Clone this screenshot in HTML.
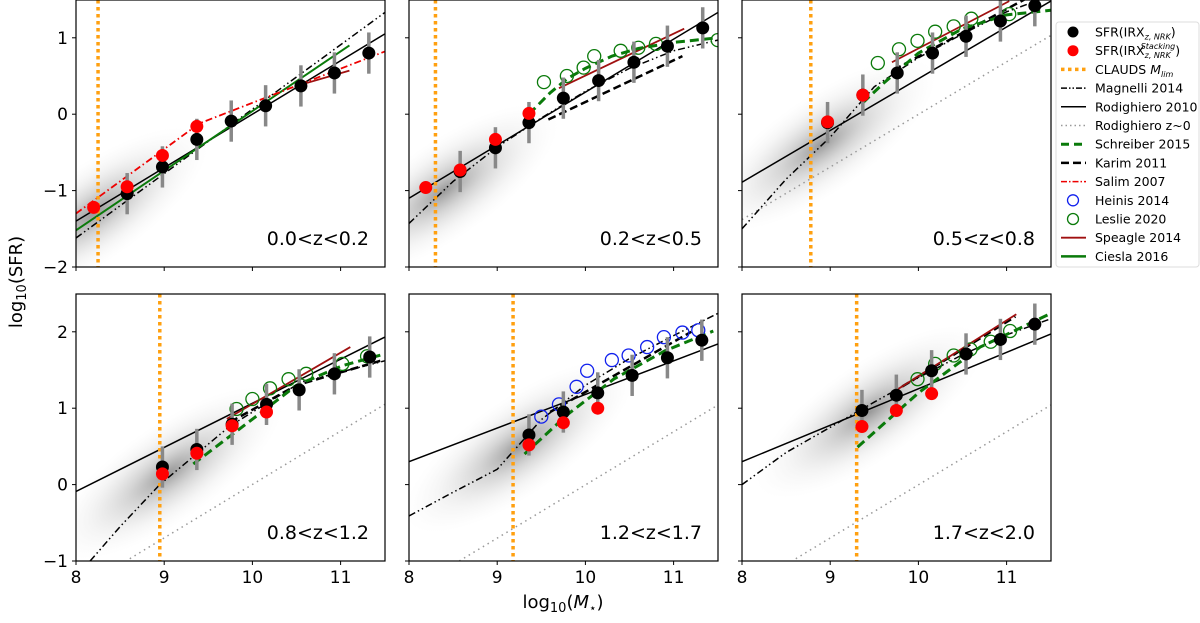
<!DOCTYPE html>
<html><head><meta charset="utf-8">
<style>
body{margin:0;background:#fff;width:1200px;height:618px;overflow:hidden;font-family:"Liberation Sans","DejaVu Sans",sans-serif}
svg text{font-family:"DejaVu Sans","Liberation Sans",sans-serif}
</style></head>
<body>
<svg id="chart" width="1200" height="618" xmlns="http://www.w3.org/2000/svg">
<defs>
<radialGradient id="hex" cx="50%" cy="50%" r="50%">
<stop offset="0" stop-color="#555" stop-opacity="0.6"/>
<stop offset="0.35" stop-color="#888" stop-opacity="0.35"/>
<stop offset="0.7" stop-color="#bbb" stop-opacity="0.15"/>
<stop offset="1" stop-color="#ddd" stop-opacity="0"/>
</radialGradient>
</defs>
<g id="panels"></g>
<text x="0" y="0" transform="translate(22,282) rotate(-90)" font-size="18" text-anchor="middle">log<tspan font-size="13" dy="4">10</tspan><tspan dy="-4">(SFR)</tspan></text>
<text x="563" y="608" font-size="18" text-anchor="middle">log<tspan font-size="13" dy="4">10</tspan><tspan dy="-4">(</tspan><tspan font-style="italic">M</tspan><tspan font-size="12" dy="4">⋆</tspan><tspan dy="-4">)</tspan></text>
<g id="legend"></g>
</svg>
<script>
const labels=["0.0<z<0.2","0.2<z<0.5","0.5<z<0.8","0.8<z<1.2","1.2<z<1.7","1.7<z<2.0"];
const mlim=[8.25,8.30,8.78,8.95,9.18,9.30];
const blackPts=[
 [[8.58,-1.04],[8.98,-0.69],[9.37,-0.33],[9.76,-0.09],[10.15,0.11],[10.55,0.37],[10.93,0.54],[11.32,0.80]],
 [[8.58,-0.75],[8.98,-0.44],[9.36,-0.11],[9.75,0.21],[10.15,0.44],[10.55,0.68],[10.93,0.89],[11.33,1.13]],
 [[8.97,-0.11],[9.37,0.25],[9.76,0.54],[10.16,0.80],[10.54,1.02],[10.93,1.22],[11.32,1.42]],
 [[8.98,0.23],[9.37,0.46],[9.77,0.79],[10.16,1.05],[10.53,1.24],[10.93,1.45],[11.33,1.67]],
 [[9.36,0.65],[9.75,0.95],[10.14,1.20],[10.53,1.43],[10.93,1.66],[11.32,1.89]],
 [[9.36,0.97],[9.75,1.17],[10.15,1.49],[10.54,1.71],[10.93,1.90],[11.32,2.10]]];
const redPts=[
 [[8.2,-1.22],[8.58,-0.95],[8.98,-0.54],[9.37,-0.16]],
 [[8.19,-0.96],[8.58,-0.73],[8.98,-0.33],[9.36,0.01]],
 [[8.97,-0.10],[9.37,0.25]],
 [[8.98,0.14],[9.37,0.41],[9.77,0.77],[10.16,0.95]],
 [[9.36,0.52],[9.75,0.81],[10.14,1.0]],
 [[9.36,0.76],[9.75,0.97],[10.15,1.19]]];
const leslie=[[],
 [[9.53,0.42],[9.79,0.50],[9.98,0.61],[10.10,0.76],[10.40,0.83],[10.60,0.87],[10.80,0.92],[11.50,0.97]],
 [[9.54,0.67],[9.78,0.85],[9.99,0.96],[10.19,1.08],[10.40,1.15],[10.60,1.25],[11.03,1.31]],
 [[9.82,0.99],[10.0,1.12],[10.2,1.26],[10.41,1.38],[10.61,1.45],[11.02,1.58],[11.3,1.68]],
 [],
 [[9.99,1.38],[10.19,1.58],[10.40,1.69],[10.59,1.77],[10.82,1.87],[11.04,2.01]]];
const heinis=[[],[],[],[],
 [[9.50,0.89],[9.70,1.05],[9.90,1.28],[10.02,1.49],[10.30,1.63],[10.49,1.69],[10.70,1.80],[10.89,1.93],[11.10,1.99],[11.28,2.02]],[]];
const magnelli=[
 [[8,-1.62],[11.5,1.33]],
 [[8,-1.43],[8.5,-0.88],[9,-0.43],[9.5,-0.05],[10,0.3],[10.5,0.6],[11,0.83],[11.5,0.97]],
 [[8,-1.5],[8.5,-0.85],[9,-0.3],[9.5,0.36],[10,0.74],[10.5,1.05],[11,1.34],[11.5,1.55]],
 [[8.16,-1.0],[8.5,-0.55],[8.95,0.0],[9.75,0.77],[10.55,1.34],[11.5,1.62]],
 [[8,-0.41],[8.5,-0.1],[9,0.2],[9.5,0.85],[10,1.3],[10.5,1.65],[11,1.95],[11.5,2.24]],
 [[8,0.0],[8.5,0.42],[9,0.75],[9.5,1.08],[10,1.4],[10.5,1.7],[11,1.96],[11.5,2.17]]];
const rodig=[[[8,-1.4],[11.5,1.05]],[[8,-1.10],[11.5,1.33]],[[8,-0.89],[11.5,1.48]],[[8,-0.09],[11.5,1.93]],[[8,0.30],[11.5,1.84]],[[8,0.30],[11.5,1.97]]];
const rodig0=[[],[],[[8,-1.38],[11.5,1.03]],[[8.61,-0.97],[11.5,1.05]],[[8.57,-1.0],[11.5,1.04]],[[8.61,-0.97],[11.5,1.04]]];
const schreiber=[[],
 [[9.36,0.0],[9.6,0.28],[9.8,0.47],[10.0,0.6],[10.3,0.76],[10.6,0.86],[11.0,0.94],[11.5,1.0]],
 [[9.37,0.15],[9.6,0.4],[10,0.8],[10.5,1.12],[11,1.3],[11.5,1.36]],
 [[9.33,0.27],[10.05,0.90],[10.5,1.3],[11.03,1.56],[11.5,1.71]],
 [[9.31,0.40],[9.8,0.92],[10.32,1.38],[10.9,1.75],[11.45,2.01]],
 [[9.31,0.49],[10,1.2],[10.7,1.8],[11.5,2.24]]];
const karim=[[],[[9.58,-0.07],[11.10,0.76]],[[9.72,0.58],[11.2,1.5]],[[9.75,0.82],[10.5,1.3],[11.45,1.62]],[[9.6,0.95],[11.2,2.0]],[[9.7,1.2],[11.1,2.2]]];
const salim=[[[8,-1.3],[9.4,-0.12],[11.5,0.82]],[],[],[],[],[]];
const speagle=[[[10.5,0.37],[11.1,0.57]],[[9.70,0.34],[11.12,1.12]],[[9.70,0.68],[11.03,1.48]],[[9.71,0.86],[11.11,1.80]],[],[[9.70,1.2],[11.11,2.23]]];
const ciesla=[[[8,-1.52],[11.1,0.9]],[],[],[],[],[]];
const density=[[8.2,-1.3],[8.4,-1.0],[8.9,-0.4],[9.05,0.15],[9.25,0.5],[9.45,0.95]];
const xTicks=[8,9,10,11];
const yTicksTop=[-2,-1,0,1];
const yTicksBot=[-1,0,1,2];

const NS="http://www.w3.org/2000/svg";
const colL=[76,409,742], W=309, rowT=[0,294], H=267, PX=88.2, PY=76.4;
function mk(tag,attrs,parent){const e=document.createElementNS(NS,tag);for(const k in attrs)e.setAttribute(k,attrs[k]);parent.appendChild(e);return e;}
const root=document.getElementById('panels');
for(let p=0;p<6;p++){
 const r=Math.floor(p/3),c=p%3, x0=colL[c], y0=rowT[r], ymin=r?-1:-2;
 const X=m=>x0+(m-8)*PX, Y=v=>y0+H-(v-ymin)*PY;
 const g=mk('g',{},root);
 
 
 const cp=mk('clipPath',{id:'cp'+p},g); mk('rect',{x:x0,y:y0,width:W,height:H},cp);
 const pg=mk('g',{'clip-path':'url(#cp'+p+')'},g);
 const d=density[p];
 const ang=-Math.atan(0.8*PY/PX)*180/Math.PI;
 const bl=mk('ellipse',{cx:X(d[0]),cy:Y(d[1]),rx:135,ry:48,fill:'url(#hex)',transform:`rotate(${ang} ${X(d[0])} ${Y(d[1])})`},pg);
 
 
 function line(pts,color,w,dash,name){ if(!pts.length)return;
  const el=mk('polyline',{points:pts.map(q=>X(q[0])+','+Y(q[1])).join(' '),fill:'none',stroke:color,'stroke-width':w,'stroke-dasharray':dash||'none'},pg);
  
  }
 line(rodig0[p],'#999',1.5,'1.5,4','rodighiero-z0-line');
 line(rodig[p],'#000',1.5,'','rodighiero-2010-line');
 line(magnelli[p],'#000',1.5,'7,3,1.5,3,1.5,3','magnelli-2014-line');
 line(karim[p],'#000',2.5,'8,4','karim-2011-line');
 line(ciesla[p],'#0a7a0a',2,'','ciesla-2016-line');
 line(salim[p],'#e00',1.8,'7,3,1.5,3','salim-2007-line');
 line(speagle[p],'#a01010',1.8,'','speagle-2014-line');
 line(schreiber[p],'#0a7a0a',3,'9,5','schreiber-2015-line');
 const ml=mk('line',{x1:X(mlim[p]),x2:X(mlim[p]),y1:y0,y2:y0+H,stroke:'#ffa010','stroke-width':3.5,'stroke-dasharray':'3.5,3.5'},pg);
 
 
 leslie[p].forEach(q=>{const e=mk('circle',{cx:X(q[0]),cy:Y(q[1]),r:6.5,fill:'none',stroke:'#0a7a0a','stroke-width':1.3},pg);
  
  });
 heinis[p].forEach(q=>{const e=mk('circle',{cx:X(q[0]),cy:Y(q[1]),r:6.5,fill:'none',stroke:'#1020ee','stroke-width':1.3},pg);
  
  });
 blackPts[p].forEach(q=>{const eb=mk('line',{x1:X(q[0]),x2:X(q[0]),y1:Y(q[1]+0.27),y2:Y(q[1]-0.27),stroke:'#888','stroke-width':3.5},pg);
  
  });
 blackPts[p].forEach(q=>{const e=mk('circle',{cx:X(q[0]),cy:Y(q[1]),r:6.5,fill:'#000'},pg);
  
  });
 redPts[p].forEach(q=>{const e=mk('circle',{cx:X(q[0]),cy:Y(q[1]),r:6.5,fill:'#f00'},pg);
  
  });
 const fr=mk('rect',{x:x0,y:y0,width:W,height:H,fill:'none',stroke:'#000','stroke-width':1.2},g);
 
 
 xTicks.forEach(t=>{mk('line',{x1:X(t),x2:X(t),y1:y0+H,y2:y0+H+4,stroke:'#000'},g);
  if(r===1){const tx=mk('text',{x:X(t),y:y0+H+22,'font-size':17,'text-anchor':'middle'},g);tx.textContent=t;
   
   }});
 (r?yTicksBot:yTicksTop).forEach(t=>{mk('line',{x1:x0-4,x2:x0,y1:Y(t),y2:Y(t),stroke:'#000'},g);
  if(c===0){const tx=mk('text',{x:x0-8,y:Y(t)+6,'font-size':17,'text-anchor':'end'},g);tx.textContent=(t<0?'\u2212'+(-t):t);
   
   }});
 const lb=mk('text',{x:x0+W-16,y:y0+H-22,'font-size':19,'text-anchor':'end'},g);lb.textContent=labels[p];
 
 
}
// legend
const leg=document.getElementById('legend');
mk('rect',{x:1056,y:22,width:143,height:245,fill:'#fff',stroke:'#ddd',rx:3},leg);
const items=[
 ['dot','#000','SFR(IRX','z, NRK',''],['dot','#f00','SFR(IRX','z, NRK','Stacking'],
 ['line','#ffa010','CLAUDS ','',''],['line','#000','Magnelli 2014'],['line','#000','Rodighiero 2010'],
 ['line','#999','Rodighiero z~0'],['line','#0a7a0a','Schreiber 2015'],['line','#000','Karim 2011'],
 ['line','#e00','Salim 2007'],['circ','#1020ee','Heinis 2014'],['circ','#0a7a0a','Leslie 2020'],
 ['line','#a01010','Speagle 2014'],['line','#0a7a0a','Ciesla 2016']];
const dashes=['','','3.5,3.5','6,2,1.5,2,1.5,2','','1.5,3','8,5','8,4','6,2,1.5,2','','','',''];
const widths=[0,0,3.5,1.5,1.5,1.5,3,2.5,1.5,0,0,1.8,2.5];
items.forEach((it,i)=>{
 const y=32+i*18.7;
 const g=mk('g',{},leg);
 
 
 if(it[0]==='dot')mk('circle',{cx:1073,cy:y,r:5.5,fill:it[1]},g);
 else if(it[0]==='circ')mk('circle',{cx:1073,cy:y,r:5.5,fill:'none',stroke:it[1],'stroke-width':1.3},g);
 else mk('line',{x1:1061,x2:1086,y1:y,y2:y,stroke:it[1],'stroke-width':widths[i],'stroke-dasharray':dashes[i]||'none'},g);
 const t=mk('text',{x:1095,y:y+4.5,'font-size':12.5},g);
 if(i<2){t.innerHTML=`SFR(IRX<tspan font-size="8" font-style="italic" dy="3">z, NRK</tspan><tspan dy="-3">)</tspan>`;
  if(i===1){t.innerHTML=`SFR(IRX<tspan font-size="8" font-style="italic" dy="3">z, NRK</tspan><tspan font-size="8" font-style="italic" dx="-30" dy="-9">Stacking</tspan><tspan dy="6">)</tspan>`;}}
 else if(i===2){t.innerHTML=`CLAUDS <tspan font-style="italic">M</tspan><tspan font-size="8" font-style="italic" dy="3">lim</tspan>`;}
 else t.textContent=it[2];
});
</script>
</body></html>
